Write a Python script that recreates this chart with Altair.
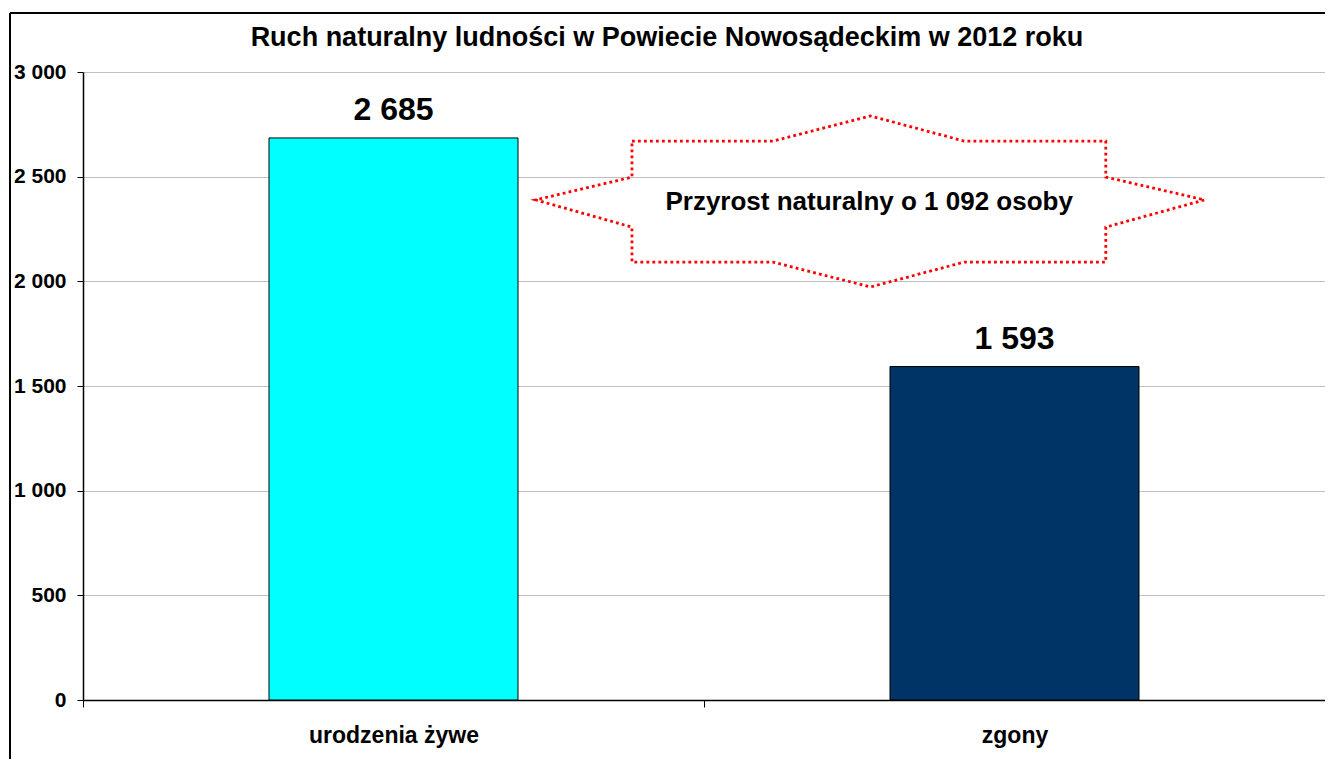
import altair as alt
import pandas as pd

# ---- data ----
categories = ["urodzenia żywe", "zgony"]
values = [2685, 1593]
bar_colors = ["#00FFFF", "#003366"]
y_ticks = [0, 500, 1000, 1500, 2000, 2500, 3000]

title_text = "Ruch naturalny ludności w Powiecie Nowosądeckim w 2012 roku"
callout_text = "Przyrost naturalny o 1 092 osoby"

# callout star outline in data units (x: category-step units 0..2, y: value units)
star_x = [0.884, 1.111, 1.268, 1.419, 1.647, 1.647, 1.806, 1.647, 1.647,
          1.419, 1.268, 1.111, 0.884, 0.884, 0.729, 0.884, 0.884]
star_y = [2670, 2670, 2790, 2670, 2670, 2498, 2389, 2259, 2092,
          2092, 1973, 2092, 2092, 2259, 2389, 2498, 2670]
callout_x = [1.266]
callout_y = [2380]

FONT = "Liberation Sans"
W, H = 1242, 628

bars_df = pd.DataFrame({"cat": categories, "val": values, "color": bar_colors})
star_df = pd.DataFrame({"x": star_x, "y": star_y, "i": list(range(len(star_x)))})
callout_df = pd.DataFrame({"x": callout_x, "y": callout_y, "t": [callout_text]})

yscale = alt.Scale(domain=[0, 3000], nice=False)

bars = alt.Chart(bars_df).mark_bar(size=249, stroke="black", strokeWidth=1).encode(
    x=alt.X("cat:N", sort=categories,
            scale=alt.Scale(paddingInner=0, paddingOuter=0),
            axis=alt.Axis(title=None, tickBand="extent", tickSize=7, tickColor="black",
                          domainColor="black", domainWidth=1.5, labelAngle=0,
                          labelFont=FONT, labelFontSize=23, labelFontWeight="bold",
                          labelColor="black", labelPadding=17, grid=False)),
    y=alt.Y("val:Q", scale=yscale,
            axis=alt.Axis(title=None, values=y_ticks, tickSize=6, tickColor="black",
                          domainColor="black", domainWidth=1.5,
                          gridColor="#c0c0c0", gridWidth=1,
                          labelFont=FONT, labelFontSize=21, labelFontWeight="bold",
                          labelColor="black", labelPadding=11,
                          labelExpr="replace(format(datum.value, ','), ',', ' ')")),
    color=alt.Color("color:N", scale=None),
)

labels = alt.Chart(bars_df).transform_calculate(
    lab="replace(format(datum.val, ','), ',', ' ')"
).mark_text(font=FONT, fontSize=32, fontWeight="bold", color="black",
            baseline="alphabetic", dy=-18).encode(
    x=alt.X("cat:N", sort=categories, axis=None),
    y=alt.Y("val:Q", scale=yscale),
    text="lab:N",
)

xq = alt.Scale(domain=[0, 2], nice=False, zero=False)

star = alt.Chart(star_df).mark_line(color="#FF0000", strokeWidth=2.8,
                                    strokeDash=[2.8, 3.2]).encode(
    x=alt.X("x:Q", scale=xq, axis=None),
    y=alt.Y("y:Q", scale=yscale),
    order="i:Q",
)

callout = alt.Chart(callout_df).mark_text(font=FONT, fontSize=26, fontWeight="bold",
                                          color="black", baseline="middle").encode(
    x=alt.X("x:Q", scale=xq, axis=None),
    y=alt.Y("y:Q", scale=yscale),
    text="t:N",
)

single = pd.DataFrame({"t": [title_text]})
title = alt.Chart(single).mark_text(font=FONT, fontSize=27, fontWeight="bold",
                                    color="black", baseline="alphabetic",
                                    align="center").encode(
    x=alt.value(584), y=alt.value(-26), text="t:N")

frame_left = alt.Chart(single).mark_rule(color="black", strokeWidth=2).encode(
    x=alt.value(-73), y=alt.value(-59), y2=alt.value(H + 59))
frame_top = alt.Chart(single).mark_rule(color="black", strokeWidth=2).encode(
    x=alt.value(-73), x2=alt.value(W), y=alt.value(-59))

chart = alt.layer(bars, labels, star, callout, title, frame_left, frame_top).resolve_scale(
    x="independent"
).properties(
    width=W, height=H,
    autosize=alt.AutoSizeParams(type="none"),
    padding={"left": 75, "top": 64, "right": 0, "bottom": 59},
).configure_view(stroke=None).configure(background="white")

chart.save("out.html", embed_options={"renderer": "svg", "actions": False})
